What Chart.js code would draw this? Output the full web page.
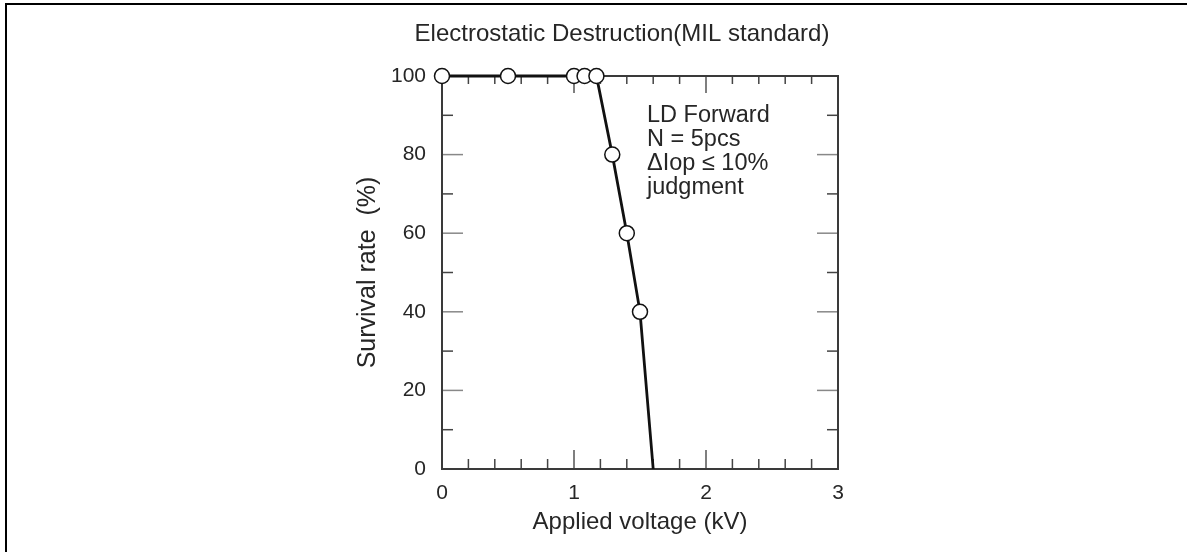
<!DOCTYPE html>
<html>
<head>
<meta charset="utf-8">
<script src="https://cdn.jsdelivr.net/npm/chart.js@4.4.0/dist/chart.umd.min.js"></script>
<style>
  html, body { margin: 0; padding: 0; background: #fff; }
  #wrap { position: relative; width: 1187px; height: 552px; overflow: hidden; }
  #frameTop { position: absolute; left: 5px; top: 3px; width: 1182px; height: 2px; background: #000; }
  #frameLeft { position: absolute; left: 5px; top: 3px; width: 2px; height: 549px; background: #000; }
  canvas { position: absolute; left: 0; top: 0; }
</style>
</head>
<body>
<div id="wrap">
  <canvas id="myChart" width="1187" height="552"></canvas>
  <div id="frameTop"></div>
  <div id="frameLeft"></div>
</div>
<script>
const titleText = "Electrostatic Destruction(MIL standard)";
const xTitle = "Applied voltage (kV)";
const yTitle = "Survival rate  (%)";
const noteLines = ["LD Forward", "N = 5pcs", "\u0394Iop \u2264 10%", "judgment"];

// measured points (kV, %)
const markerVolts = [0, 0.5, 1.0, 1.08, 1.17, 1.29, 1.4, 1.5];
const markerRates = [100, 100, 100, 100, 100, 80, 60, 40];

// drawn curve, ends at 1.6 kV without a marker
const curveVolts = [0, 1.17, 1.29, 1.4, 1.5, 1.6];
const curveRates = [100, 100, 80, 60, 40, 0];

const xMinorTicks = [0.2, 0.4, 0.6, 0.8, 1.2, 1.4, 1.6, 1.8, 2.2, 2.4, 2.6, 2.8];
const xMajorTicks = [1, 2];
const yMinorTicks = [10, 30, 50, 70, 90];
const yMajorTicks = [20, 40, 60, 80];

const font = "'Liberation Sans', Arial, Helvetica, sans-serif";
const ink = "#262626";

function toPoints(xs, ys) {
  return xs.map((x, i) => ({ x: x, y: ys[i] }));
}

const frameAndText = {
  id: "frameAndText",
  beforeDatasetsDraw(chart) {
    const { ctx, chartArea: a, scales } = chart;
    const xs = scales.x, ys = scales.y;
    ctx.save();

    // inward ticks on all four sides
    function tick(x1, y1, x2, y2, color) {
      ctx.strokeStyle = color;
      ctx.lineWidth = 1.5;
      ctx.beginPath();
      ctx.moveTo(x1, y1);
      ctx.lineTo(x2, y2);
      ctx.stroke();
    }
    xMinorTicks.forEach(v => {
      const px = xs.getPixelForValue(v);
      tick(px, a.bottom, px, a.bottom - 10, "#444");
      tick(px, a.top, px, a.top + 8, "#444");
    });
    xMajorTicks.forEach(v => {
      const px = xs.getPixelForValue(v);
      tick(px, a.bottom, px, a.bottom - 19, "#555");
      tick(px, a.top, px, a.top + 17, "#555");
    });
    yMinorTicks.forEach(v => {
      const py = ys.getPixelForValue(v);
      tick(a.left, py, a.left + 11, py, "#444");
      tick(a.right, py, a.right - 11, py, "#444");
    });
    yMajorTicks.forEach(v => {
      const py = ys.getPixelForValue(v);
      tick(a.left, py, a.left + 21, py, "#888");
      tick(a.right, py, a.right - 21, py, "#888");
    });

    ctx.strokeStyle = "#3a3a3a";
    ctx.lineWidth = 2;
    ctx.strokeRect(a.left, a.top, a.right - a.left, a.bottom - a.top);

    ctx.fillStyle = ink;
    ctx.font = "24px " + font;
    ctx.textAlign = "center";
    ctx.textBaseline = "middle";
    ctx.fillText(titleText, 622, 34);

    ctx.font = "23.5px " + font;
    ctx.textAlign = "left";
    ctx.textBaseline = "alphabetic";
    noteLines.forEach((t, i) => ctx.fillText(t, 647, 122 + i * 24));
    ctx.restore();
  }
};

new Chart(document.getElementById("myChart"), {
  type: "scatter",
  data: {
    datasets: [
      {
        label: "curve",
        data: toPoints(curveVolts, curveRates),
        showLine: true,
        borderColor: "#111",
        borderWidth: 2.8,
        pointRadius: 0,
        tension: 0,
        clip: false,
        order: 2
      },
      {
        label: "measured",
        data: toPoints(markerVolts, markerRates),
        showLine: false,
        pointRadius: 7.5,
        pointBackgroundColor: "#fff",
        pointBorderColor: "#111",
        pointBorderWidth: 1.5,
        clip: false,
        order: 1
      }
    ]
  },
  options: {
    responsive: false,
    animation: false,
    events: [],
    layout: { padding: { left: 353, right: 349, top: 76, bottom: 0 } },
    plugins: {
      legend: { display: false },
      tooltip: { enabled: false }
    },
    scales: {
      x: {
        type: "linear",
        min: 0,
        max: 3,
        grid: { display: false, drawTicks: false },
        border: { display: false },
        ticks: { stepSize: 1, padding: 12, color: ink, font: { family: font, size: 21 } },
        title: { display: true, text: xTitle, color: ink, font: { family: font, size: 24 }, padding: { top: 0, bottom: 15 } },
        afterFit(scale) { scale.height = 83; }
      },
      y: {
        type: "linear",
        min: 0,
        max: 100,
        grid: { display: false, drawTicks: false },
        border: { display: false },
        ticks: { stepSize: 20, padding: 16, color: ink, font: { family: font, size: 21 } },
        title: { display: true, text: yTitle, color: ink, font: { family: font, size: 25 }, padding: 0 },
        afterFit(scale) { scale.width = 89; }
      }
    }
  },
  plugins: [frameAndText]
});
</script>
</body>
</html>
